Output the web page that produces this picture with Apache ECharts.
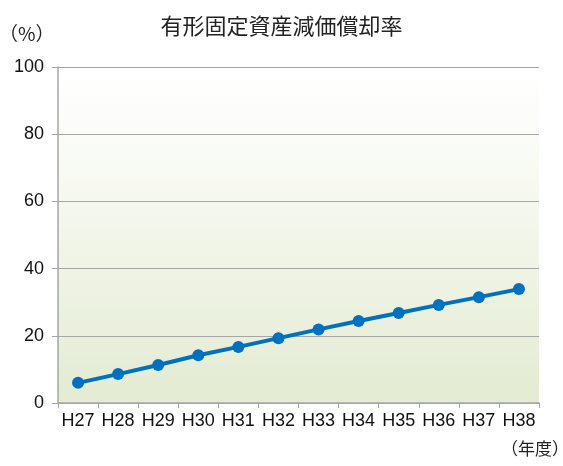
<!DOCTYPE html>
<html><head><meta charset="utf-8">
<script src="https://cdn.jsdelivr.net/npm/echarts@6/dist/echarts.min.js"></script>
<style>html,body{margin:0;padding:0;background:#fff}#c{width:563px;height:466px}</style>
</head><body><div id="c"></div>
<script>
const categories = ['H27','H28','H29','H30','H31','H32','H33','H34','H35','H36','H37','H38'];
const values = [6.0, 8.6, 11.3, 14.2, 16.7, 19.3, 21.9, 24.4, 26.8, 29.2, 31.5, 33.9];
const yTicks = {min: 0, max: 100, interval: 20};
const titleText = '有形固定資産減価償却率';
const yUnit = '（%）';
const xUnit = '（年度）';

const font = '"Noto Sans CJK JP", "Noto Sans", sans-serif';
const latin = 'Arial, "Liberation Sans", sans-serif';
const chart = echarts.init(document.getElementById('c'));
chart.setOption({
  backgroundColor: '#fff',
  animation: false,
  title: {text: titleText, left: 'center', top: 10, textStyle: {fontFamily: font, fontSize: 22, fontWeight: 'normal', color: '#222'}},
  graphic: [
    {type: 'text', left: -1, top: 24, style: {text: yUnit, font: '19px ' + font, fill: '#222'}},
    {type: 'text', left: 501, top: 440, style: {text: xUnit, font: '17px ' + font, fill: '#222'}}
  ],
  grid: {left: 58, right: 24, top: 67, bottom: 63, show: true, borderWidth: 0,
    backgroundColor: new echarts.graphic.LinearGradient(0, 0, 0, 1, [
      {offset: 0, color: '#ffffff'}, {offset: 0.2, color: '#fbfcf8'}, {offset: 1, color: '#e3ebd2'}])},
  xAxis: {type: 'category', data: categories, boundaryGap: true,
    axisLine: {show: true, lineStyle: {color: '#a6a6a6', width: 1.5}},
    axisTick: {show: true, alignWithLabel: false, length: 5, lineStyle: {color: '#a6a6a6'}},
    axisLabel: {color: '#111', fontSize: 18, fontFamily: latin, margin: 9, interval: 0}},
  yAxis: {type: 'value', min: yTicks.min, max: yTicks.max, interval: yTicks.interval,
    axisLine: {show: true, lineStyle: {color: '#a6a6a6', width: 1.5}},
    axisTick: {show: true, length: 6, lineStyle: {color: '#a6a6a6'}},
    splitLine: {show: true, lineStyle: {color: '#a6a6a6', width: 1}},
    axisLabel: {color: '#111', fontSize: 18, fontFamily: latin, margin: 14}},
  series: [{type: 'line', data: values, symbol: 'circle', symbolSize: 12,
    lineStyle: {color: '#0070c0', width: 4}, itemStyle: {color: '#0070c0'}}]
});
</script></body></html>
